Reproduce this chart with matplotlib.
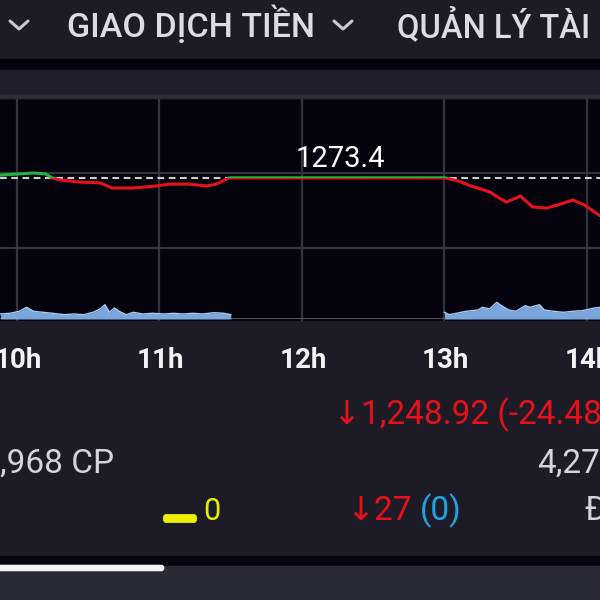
import matplotlib
matplotlib.use("Agg")
import matplotlib.pyplot as plt
from matplotlib.patches import Rectangle, FancyBboxPatch
from matplotlib.lines import Line2D
import matplotlib.transforms as mtransforms

# ---------------- data ----------------
ref_price = 1273.4
# time in minutes since 9:00
price_t = [53, 61, 67, 72, 75, 78, 86, 95, 100, 109, 119, 124, 132, 140, 144, 149, 150,
           240, 246, 251, 254, 259, 263, 266, 272, 277, 283, 289, 294, 299, 305, 307]
price_v = [1274.3, 1274.7, 1275.0, 1274.7, 1273.3, 1272.7, 1272.0, 1271.7, 1270.0, 1270.0,
           1270.7, 1271.3, 1271.3, 1270.7, 1271.3, 1273.3, 1273.4, 1273.4, 1272.3, 1270.7,
           1270.0, 1268.7, 1266.7, 1265.3, 1267.3, 1263.7, 1263.3, 1264.7, 1266.0, 1264.3,
           1261.0, 1260.3]

vol_am_t = [53, 57, 61, 64, 67, 71, 75, 80, 84, 88, 92, 95, 97, 99, 101, 103, 106, 109, 113,
            117, 122, 126, 130, 134, 138, 143, 147, 150]
vol_am_v = [5, 5.7, 7.7, 11.7, 7.7, 6.7, 5.7, 4.3, 5, 4.3, 6.7, 10, 14.3, 6.7, 11, 7.7, 4.3,
            6.7, 5, 5.7, 5, 5.7, 5, 5.7, 5, 6.3, 5.7, 4.3]
vol_pm_t = [240, 242, 245, 249, 254, 256, 259, 262, 264, 267, 270, 274, 276, 280, 282, 286,
            290, 294, 298, 303, 306]
vol_pm_v = [6.7, 4.3, 5.7, 7.7, 9, 11.7, 10, 16.7, 13.3, 9, 7.7, 13.3, 11.7, 14.3, 9, 7.7,
            6.7, 7.7, 8.3, 11, 11.7]

tick_minutes = [60, 120, 180, 240, 300]
tick_labels = ["10h", "11h", "12h", "13h", "14h"]
price_grid = [1250, 1275, 1300]

menu_labels = ["GIAO DỊCH TIỀN", "QUẢN LÝ TÀI"]
index_text = "↓1,248.92 (-24.48"
volume_text = ",968 CP"
value_text = "4,27"
unchanged_count = "0"
down_count = "27"
floor_count = "(0)"

# ---------------- style ----------------
BG = "#1c1b26"
BLACK = "#04030d"
PANEL = "#1f1e2a"
GRID = "#34333b"
RED = "#e8111b"
GREEN = "#22b43c"
FONT = ["Roboto", "DejaVu Sans"]

W = H = 600
fig = plt.figure(figsize=(6, 6), dpi=100, facecolor=BG)


def fy(y):
    return 1 - y / H


def fx(x):
    return x / W


def band(y0, y1, color, x0=0, x1=W):
    fig.patches.append(Rectangle((fx(x0), fy(y1)), fx(x1) - fx(x0), (y1 - y0) / H,
                                 transform=fig.transFigure, color=color, zorder=0))


# background bands
band(59, 70, BLACK)
band(70, 95, PANEL)
band(95, 98, "#2c2b36")
band(556, 566, BLACK)
band(566, 600, "#2a2936")

# top menu
fig.text(fx(67), fy(37), menu_labels[0], color="#dcdce4", fontsize=24.5,
         fontweight="medium", family=FONT, va="baseline", ha="left")
fig.text(fx(397), fy(37), menu_labels[1], color="#dcdce4", fontsize=23.5,
         fontweight="medium", family=FONT, va="baseline", ha="left")
for cx in (19, 343):
    fig.lines.append(Line2D([fx(cx - 9), fx(cx), fx(cx + 9)], [fy(21), fy(29), fy(21)],
                            transform=fig.transFigure, color="#c9c9d2", lw=2.2,
                            solid_capstyle="round", solid_joinstyle="round"))

# ---------------- price chart ----------------
ax = fig.add_axes([0, fy(321), 1, (321 - 98) / H])
ax.set_facecolor(BLACK)
x_left = 60 - 17 / 2.375
x_right = 60 + 583 / 2.375
ax.set_xlim(x_left, x_right)
ax.set_ylim(1300 - (321 - 98) / 3, 1300)
for s in ax.spines.values():
    s.set_visible(False)
ax.set_xticks([])
ax.set_yticks([])
for m in tick_minutes:
    ax.axvline(m, color=GRID, lw=1.6, zorder=1)
for p in price_grid:
    ax.axhline(p, color=GRID, lw=1.6, zorder=1)

ax.axhline(ref_price, color="#cfcfcf", lw=1.5, dashes=(3.2, 2.2), zorder=2)

above = Rectangle((x_left, ref_price), x_right - x_left, 100, transform=ax.transData)
below = Rectangle((x_left, ref_price - 100), x_right - x_left, 100, transform=ax.transData)
lg, = ax.plot(price_t, price_v, color=GREEN, lw=2.2, zorder=3)
lg.set_clip_path(above)
lr, = ax.plot(price_t, price_v, color=RED, lw=2.2, zorder=3)
lr.set_clip_path(below)

ax.annotate(f"{ref_price}", xy=(196, ref_price), xytext=(0, 7.5),
            textcoords="offset points", ha="center", va="baseline",
            color="white", fontsize=21, family=FONT)

blend = mtransforms.blended_transform_factory(ax.transData, fig.transFigure)
for m, lab in zip(tick_minutes, tick_labels):
    ax.text(m + 0.5, fy(368), lab, transform=blend, ha="center", va="baseline",
            color="#f2f2f6", fontsize=20, fontweight="bold", family=FONT, clip_on=False)

# ---------------- volume ----------------
axv = fig.add_axes([0, fy(319), 1, 50 / H])
axv.patch.set_alpha(0)
axv.set_xlim(x_left, x_right)
axv.set_ylim(0, 50)
axv.axis("off")
axv.axhline(0, color="#6d6c74", lw=1.8, zorder=1)
for t, v in ((vol_am_t, vol_am_v), (vol_pm_t, vol_pm_v)):
    axv.fill_between(t, 0, v, color="#7aa6dc", lw=0, zorder=2)
    axv.plot(t, v, color="#a9cbf3", lw=1.0, zorder=3)

# ---------------- info rows ----------------
fig.text(fx(333), fy(424), index_text, color=RED, fontsize=24, family=FONT,
         va="baseline", ha="left")
fig.text(fx(0), fy(473), volume_text, color="#d4d4dc", fontsize=24, family=FONT,
         va="baseline", ha="left")
fig.text(fx(537), fy(473), value_text, color="#d4d4dc", fontsize=24, family=FONT,
         va="baseline", ha="left")

fig.patches.append(FancyBboxPatch((fx(165), fy(521)), fx(30), 5 / H,
                                  boxstyle="round,pad=0.002,rounding_size=0.004",
                                  transform=fig.transFigure, color="#eef000", zorder=2))
fig.text(fx(203), fy(520), unchanged_count, color="#e8f000", fontsize=22, family=FONT,
         va="baseline", ha="left")
fig.text(fx(346), fy(520), "↓" + down_count, color=RED, fontsize=24, family=FONT,
         va="baseline", ha="left")
fig.text(fx(420), fy(520), floor_count, color="#1ea3e6", fontsize=24, family=FONT,
         va="baseline", ha="left")
fig.text(fx(584), fy(520), "Đ", color="#d4d4dc", fontsize=24, family=FONT,
         va="baseline", ha="left")

fig.patches.append(FancyBboxPatch((fx(-10), fy(570)), fx(173), 4 / H,
                                  boxstyle="round,pad=0.001,rounding_size=0.004",
                                  transform=fig.transFigure, color="#f4f4f6", zorder=2))

fig.savefig("out.png", dpi=100, facecolor=BG)
